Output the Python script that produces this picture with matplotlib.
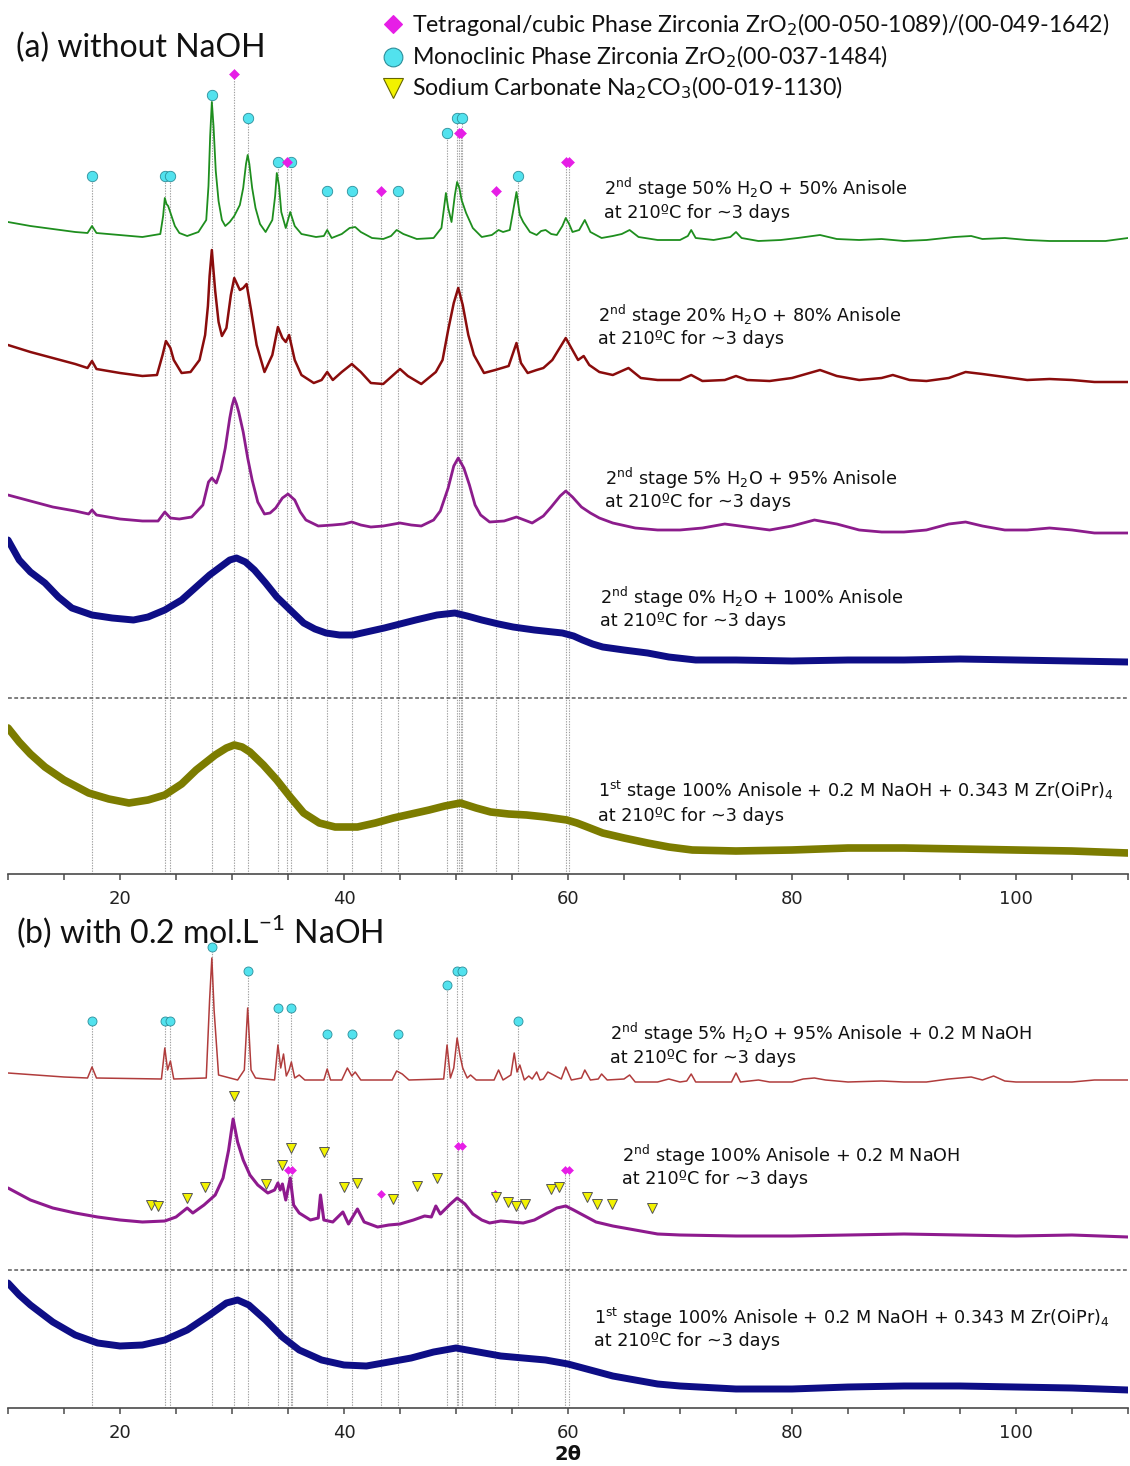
import matplotlib
matplotlib.use("Agg")
import matplotlib.pyplot as plt
from matplotlib.ticker import MultipleLocator
from matplotlib.lines import Line2D

W, H = 1130, 1466

# ---------------- panel (a) data : 2theta / intensity (a.u., offset) ----------------
tt_a50 = [10, 12, 14, 16, 17.1, 17.5, 17.9, 20, 22, 23.6, 23.85, 24.0, 24.15, 24.3, 24.6, 24.9, 25.3, 26, 27, 27.7,
          27.9, 28.05, 28.2, 28.35, 28.55, 28.8, 29.1, 29.4, 29.8, 30.2, 30.7, 31.0, 31.25, 31.4, 31.55, 31.8, 32.1, 32.5, 33.0, 33.6,
          33.85, 34.0, 34.2, 34.4, 34.8, 35.2, 35.6, 36.2, 37.5, 38.2, 38.5, 38.9, 39.8, 40.5, 41.0, 41.5, 42.5, 43.5, 44.2, 44.7,
          45.3, 46.5, 48.0, 48.7, 48.95, 49.1, 49.3, 49.6, 49.9, 50.1, 50.3, 50.5, 50.9, 51.5, 52.3, 53.2, 53.8, 54.2, 54.8, 55.2,
          55.4, 55.7, 56.0, 56.6, 57.2, 57.6, 58.0, 58.5, 59.0, 59.5, 59.8, 60.1, 60.4, 61.0, 61.5, 62.0, 63, 64, 64.8, 65.5,
          66.3, 68, 70, 70.7, 71.0, 71.4, 73, 74.5, 75.0, 75.5, 77, 79, 80.5, 82.5, 84, 86, 88, 90, 92, 94.5,
          96, 97, 99, 101, 103, 106, 108, 110]
I_a50 = [654, 650, 647, 644, 643, 650, 643, 641, 639, 642, 660, 678, 672, 670, 660, 650, 643, 640, 644, 656,
         690, 740, 774, 750, 705, 675, 656, 650, 654, 660, 671, 688, 712, 721, 712, 688, 668, 652, 644, 656,
         680, 703, 690, 664, 648, 664, 650, 642, 639, 640, 646, 638, 642, 648, 649, 644, 638, 637, 640, 646,
         642, 637, 638, 648, 670, 683, 668, 654, 681, 694, 688, 676, 663, 648, 639, 641, 646, 644, 646, 671,
         684, 661, 654, 644, 641, 645, 646, 642, 641, 650, 658, 652, 644, 646, 656, 644, 638, 640, 642, 646,
         639, 636, 636, 640, 646, 638, 636, 639, 644, 638, 635, 636, 638, 641, 637, 636, 637, 635, 636, 639,
         640, 637, 638, 636, 635, 635, 635, 638]

tt_a20 = [10, 12, 14, 16, 17.1, 17.5, 17.9, 20, 22, 23.3, 23.8, 24.1, 24.5, 24.8, 25.5, 26.3, 27.1, 27.6, 27.85, 28.0,
          28.2, 28.35, 28.5, 28.8, 29.1, 29.5, 29.9, 30.2, 30.7, 31.0, 31.3, 31.7, 32.2, 32.9, 33.6, 34.1, 34.5, 34.8, 35.1, 35.6,
          36.2, 37.3, 38.0, 38.5, 39.0, 39.8, 40.7, 41.5, 42.4, 43.5, 44.3, 45.0, 45.7, 46.9, 48.2, 48.8, 49.3, 49.8, 50.2, 50.6,
          51.1, 51.6, 52.5, 53.5, 54.7, 55.4, 55.8, 56.4, 57.2, 57.8, 58.6, 59.8, 60.4, 60.9, 61.4, 61.9, 62.8, 64.0, 65.4, 66.5,
          68, 70, 71.0, 72, 74, 75, 76, 78, 80, 82.5, 84, 86, 88, 89, 90.5, 92, 94, 95.5, 97, 99,
          101, 103, 105, 107, 110]
I_a20 = [531, 524, 518, 512, 508, 515, 507, 503, 500, 501, 521, 535, 528, 516, 503, 504, 516, 541, 570, 600,
         626, 605, 585, 554, 540, 548, 581, 598, 586, 588, 592, 566, 531, 504, 521, 549, 538, 534, 541, 516,
         501, 493, 496, 504, 496, 504, 512, 504, 493, 492, 500, 507, 500, 492, 504, 516, 546, 573, 588, 571,
         541, 521, 503, 506, 510, 533, 513, 503, 506, 508, 516, 538, 526, 516, 520, 511, 504, 501, 508, 498,
         496, 496, 501, 495, 496, 500, 496, 495, 498, 506, 500, 496, 498, 501, 496, 495, 498, 504, 502, 499,
         496, 497, 496, 494, 494]

tt_a5 = [10, 12, 14, 16, 17.2, 17.5, 17.9, 20, 22, 23.4, 24.0, 24.5, 25.3, 26.4, 27.4, 27.9, 28.2, 28.6, 29.0, 29.4,
         29.8, 30.0, 30.2, 30.4, 30.6, 31.0, 31.4, 31.8, 32.3, 32.9, 33.4, 33.9, 34.5, 35.0, 35.6, 36.1, 36.6, 37.7, 39.0, 40.0,
         40.7, 41.5, 42.4, 43.5, 45.0, 46.0, 46.9, 48.0, 48.6, 49.3, 49.8, 50.2, 50.7, 51.2, 51.7, 52.2, 53.0, 54.3, 55.4, 56.8,
         57.8, 58.5, 59.3, 59.8, 60.4, 61.2, 62.0, 62.8, 64, 66, 68, 70, 72, 74, 76, 78, 80, 82, 84, 86,
         88, 90, 92, 94, 95.5, 97, 99, 101, 103, 105, 107, 110]
I_a5 = [381, 375, 369, 365, 362, 366, 361, 357, 355, 355, 364, 358, 357, 359, 371, 394, 398, 393, 406, 428,
        458, 470, 478, 472, 464, 444, 418, 396, 374, 362, 363, 368, 378, 382, 376, 364, 356, 350, 351, 352,
        354, 351, 349, 350, 353, 351, 350, 356, 365, 388, 410, 418, 408, 391, 371, 361, 354, 355, 359, 353,
        360, 369, 380, 385, 379, 369, 363, 358, 353, 348, 346, 346, 348, 352, 349, 346, 350, 356, 352, 346,
        344, 344, 346, 352, 354, 350, 346, 346, 348, 346, 343, 343]

tt_a0 = [10, 10.5, 11, 12, 13.3, 14.5, 15.7, 17.5, 19.3, 21.2, 22.5, 24.0, 25.5, 26.8, 28, 29.2, 29.8, 30.4, 31.2, 32.0,
         33, 34.0, 35.2, 36.4, 37.4, 38.4, 39.6, 40.8, 42, 43.6, 45, 46.4, 48.3, 49.9, 51, 52.3, 53.8, 55.1, 57, 59.5,
         60.5, 61.3, 62.2, 63.1, 65, 67.1, 69, 71.4, 75, 80, 85, 90, 95, 100, 105, 110]
I_a0 = [336, 326, 316, 304, 293, 279, 268, 261, 258, 256, 259, 266, 276, 289, 301, 311, 316, 318, 314, 306,
        293, 279, 266, 253, 247, 243, 241, 241, 244, 248, 252, 256, 261, 263, 260, 256, 252, 249, 246, 243,
        240, 236, 232, 229, 226, 223, 219, 216, 216, 215, 216, 216, 217, 216, 215, 214]

tt_a1 = [10, 10.5, 11, 12, 13.3, 15, 17.2, 19, 20.8, 22.5, 24.0, 25.5, 26.8, 28.5, 29.5, 30.2, 30.9, 31.6, 32.8, 34.0,
         35.2, 36.4, 37.8, 39.2, 41.2, 42.8, 44.4, 46, 47.6, 49, 50.4, 51.8, 53.1, 54.7, 56.3, 58, 59.9, 60.8, 61.5, 63.1,
         65, 67.1, 69, 71.1, 75, 80, 85, 90, 95, 100, 105, 110]
I_a1 = [148, 141, 134, 122, 109, 96, 83, 77, 73, 76, 81, 92, 106, 121, 128, 131, 129, 124, 111, 96,
        79, 63, 53, 49, 49, 53, 58, 62, 66, 70, 73, 68, 64, 62, 61, 59, 56, 53, 50, 43,
        38, 33, 29, 26, 25, 26, 28, 28, 27, 26, 25, 23]

# ---------------- panel (b) data ----------------
tt_b5 = [10, 15, 17.1, 17.5, 17.9, 23.7, 24.0, 24.25, 24.5, 24.8, 27.7, 28.0, 28.2, 28.4, 28.8, 30.5, 31.1, 31.4, 31.7, 32.1,
         33.8, 34.1, 34.35, 34.6, 34.85, 35.1, 35.3, 35.6, 36.0, 36.5, 38.2, 38.5, 38.8, 39.8, 40.3, 40.7, 41.0, 41.5, 44.3, 44.7,
         45.2, 45.8, 48.9, 49.2, 49.5, 49.8, 50.1, 50.35, 50.6, 51.0, 51.3, 51.8, 53.4, 53.8, 54.2, 54.9, 55.2, 55.45, 55.7, 56.1,
         56.5, 56.8, 57.2, 57.5, 57.8, 58.2, 59.4, 59.8, 60.3, 61.2, 61.5, 62.0, 62.7, 63.0, 63.5, 65.0, 65.5, 66.0, 68, 69,
         70, 70.6, 71, 71.4, 74.6, 75, 75.4, 77, 78, 80, 81, 82, 83, 85, 88, 90, 92, 94, 96, 97,
         98, 99, 100, 105, 107, 110]
I_b5 = [336, 332, 331, 342, 331, 330, 361, 339, 348, 330, 331, 409, 451, 399, 334, 329, 339, 401, 339, 331,
        329, 364, 341, 355, 333, 339, 347, 331, 334, 329, 329, 340, 329, 329, 341, 333, 337, 329, 329, 338,
        335, 329, 330, 364, 331, 341, 371, 354, 341, 331, 334, 329, 329, 339, 329, 334, 356, 337, 344, 329,
        333, 330, 337, 329, 330, 337, 330, 342, 329, 331, 339, 329, 330, 335, 329, 330, 334, 327, 327, 330,
        327, 328, 335, 327, 327, 336, 327, 329, 327, 327, 330, 331, 329, 327, 328, 327, 327, 330, 332, 329,
        333, 328, 327, 327, 329, 329]

tt_b100 = [10, 12, 14, 16, 18, 20, 22, 24, 25, 26.0, 26.5, 27.5, 28.5, 29.2, 29.7, 30.1, 30.5, 31.0, 31.6, 32.3,
           33.2, 33.8, 34.1, 34.3, 34.5, 34.8, 35.2, 35.5, 36.0, 37.0, 37.7, 37.9, 38.2, 39.0, 39.9, 40.4, 41.2, 41.8, 43, 44,
           45, 46.2, 47.2, 47.8, 48.2, 48.6, 49.5, 50.1, 50.8, 51.5, 52.3, 53, 54, 55, 56, 57, 58, 59, 59.8, 60.5,
           61.5, 62.5, 64, 66, 68, 70, 75, 80, 85, 90, 95, 100, 105, 110]
I_b100 = [221, 209, 201, 196, 192, 189, 187, 188, 192, 201, 196, 204, 214, 231, 259, 290, 267, 249, 234, 224,
          216, 219, 226, 219, 225, 209, 231, 204, 196, 189, 191, 214, 189, 187, 197, 185, 200, 187, 182, 184,
          185, 189, 193, 192, 203, 195, 205, 211, 205, 195, 189, 186, 188, 187, 186, 189, 195, 201, 203, 199,
          193, 187, 183, 179, 175, 174, 173, 173, 174, 175, 174, 173, 174, 172]

tt_b1 = [10, 11, 12, 14, 16, 18, 20, 22, 24, 26, 28, 29.5, 30.5, 31.5, 33, 34.5, 36, 38, 40, 42,
         44, 46, 48, 50, 52, 54, 56, 58, 60, 62, 64, 66, 68, 70, 75, 80, 85, 90, 95, 100, 105, 110]
I_b1 = [126, 114, 104, 87, 74, 66, 63, 64, 69, 79, 94, 106, 109, 104, 89, 72, 59, 49, 44, 43,
        47, 51, 57, 61, 57, 53, 51, 49, 45, 39, 33, 29, 25, 23, 20, 20, 22, 23, 23, 22, 21, 19]

# ---------------- reference patterns ----------------
mono_pos = [17.5, 24.0, 24.5, 28.2, 31.4, 34.1, 35.3, 38.5, 40.7, 44.8, 49.2, 50.1, 50.5, 55.5]
mono_ref_a = [700, 700, 700, 781, 758, 714, 714, 685, 685, 685, 743, 758, 758, 700]
mono_ref_b = [388, 388, 388, 462, 438, 401, 401, 375, 375, 375, 424, 438, 438, 388]
tet_pos_a = [30.2, 34.9, 43.3, 50.25, 50.45, 53.6, 59.8, 60.1]
tet_ref_a = [802, 714, 685, 743, 743, 685, 714, 714]
tet_pos_b = [35.0, 35.4, 43.3, 50.2, 50.5, 53.5, 59.75, 60.05]
tet_ref_b = [239, 239, 215, 263, 263, 215, 239, 239]
na_pos = [22.8, 23.4, 26.0, 27.6, 30.2, 33.0, 34.5, 35.3, 38.2, 40.0, 41.2, 44.4, 46.5, 48.3, 53.6, 54.6,
          55.4, 56.2, 58.5, 59.2, 61.7, 62.6, 63.9, 67.5]
na_ref = [204, 203, 211, 222, 313, 225, 244, 261, 257, 222, 226, 210, 223, 231, 212, 207,
          203, 205, 220, 222, 212, 205, 205, 201]

xticks_major = [20, 40, 60, 80, 100]

# ---------------- styles ----------------
C_MONO = '#52E2EE'
C_MONO_E = '#2C8E9A'
C_TET = '#E61EE6'
C_NA = '#F2F200'
C_NA_E = '#555555'
C_REF = '#A0A0A0'
ANN_FONT = 'DejaVu Sans'
HEAD_FONT = 'Lato'

fig = plt.figure(figsize=(W / 100, H / 100), dpi=100)


def fx(px):
    return px / W


def fy(py):
    return 1 - py / H


X0, X1 = 8, 1128
A_TOP, A_BOT = 0, 874
B_TOP, B_BOT = 905, 1408
ax_a = fig.add_axes([fx(X0), fy(A_BOT), (X1 - X0) / W, (A_BOT - A_TOP) / H])
ax_b = fig.add_axes([fx(X0), fy(B_BOT), (X1 - X0) / W, (B_BOT - B_TOP) / H])
ax_a.set_ylim(2, 876)
ax_b.set_ylim(1, 504)

for ax in (ax_a, ax_b):
    ax.set_xlim(10, 110)
    ax.patch.set_alpha(0)
    for s in ('left', 'right', 'top'):
        ax.spines[s].set_visible(False)
    ax.spines['bottom'].set_color('#4a4a4a')
    ax.spines['bottom'].set_linewidth(1.2)
    ax.set_yticks([])
    ax.xaxis.set_major_locator(MultipleLocator(20))
    ax.xaxis.set_minor_locator(MultipleLocator(5))
    ax.set_xticks(xticks_major)
    ax.set_xticklabels([str(v) for v in xticks_major])
    ax.tick_params(axis='x', which='both', direction='out', length=4.5, width=1.1,
                   color='#4a4a4a', labelsize=13, labelcolor='#222222', pad=7)
    for lab in ax.get_xticklabels():
        lab.set_fontfamily(ANN_FONT)

ls_ref = (0, (1.2, 1.2))

# reference lines + markers (a)
ax_a.vlines(mono_pos, 2, mono_ref_a, colors=C_REF, linestyles=ls_ref, lw=0.8, zorder=1)
ax_a.vlines(tet_pos_a, 2, tet_ref_a, colors=C_REF, linestyles=ls_ref, lw=0.8, zorder=1)
ax_a.plot(mono_pos, mono_ref_a, 'o', ms=7.5, mfc=C_MONO, mec=C_MONO_E, mew=0.6, zorder=5, clip_on=False)
ax_a.plot(tet_pos_a, tet_ref_a, 'D', ms=5, mfc=C_TET, mec=C_TET, mew=0.4, zorder=6, clip_on=False)

# reference lines + markers (b)
ax_b.vlines(mono_pos, 1, mono_ref_b, colors=C_REF, linestyles=ls_ref, lw=0.8, zorder=1)
ax_b.vlines(tet_pos_b, 1, tet_ref_b, colors=C_REF, linestyles=ls_ref, lw=0.8, zorder=1)
ax_b.vlines([na_pos[4]], 1, [na_ref[4]], colors=C_REF, linestyles=ls_ref, lw=0.8, zorder=1)
ax_b.plot(mono_pos, mono_ref_b, 'o', ms=6.5, mfc=C_MONO, mec=C_MONO_E, mew=0.6, zorder=5, clip_on=False)
ax_b.plot(tet_pos_b, tet_ref_b, 'D', ms=4.5, mfc=C_TET, mec=C_TET, mew=0.4, zorder=6, clip_on=False)
ax_b.plot(na_pos, na_ref, 'v', ms=6.5, mfc=C_NA, mec=C_NA_E, mew=0.7, zorder=7, clip_on=False)

# separators
ax_a.axhline(178, color='#5a5a5a', lw=1.1, ls=(0, (2.5, 1.6)), zorder=1)
ax_b.axhline(139, color='#5a5a5a', lw=1.1, ls=(0, (2.5, 1.6)), zorder=1)

# patterns
kw = dict(solid_joinstyle='round', solid_capstyle='round', zorder=3)
ax_a.plot(tt_a50, I_a50, color='#1E8E1E', lw=1.3, **kw)
ax_a.plot(tt_a20, I_a20, color='#8A0C0C', lw=1.8, **kw)
ax_a.plot(tt_a5, I_a5, color='#8C1C8C', lw=2.0, **kw)
ax_a.plot(tt_a0, I_a0, color='#0E0E86', lw=5.0, **kw)
ax_a.plot(tt_a1, I_a1, color='#7C7C00', lw=5.5, **kw)
ax_b.plot(tt_b5, I_b5, color='#B03C3C', lw=1.1, **kw)
ax_b.plot(tt_b100, I_b100, color='#8E1A8E', lw=2.2, **kw)
ax_b.plot(tt_b1, I_b1, color='#0E0E86', lw=5.0, **kw)

# annotations
def ann(ax, x, y1, y2, l1, l2):
    ax.text(x, y1, l1, fontsize=12.7, family=ANN_FONT, va='center', ha='left', color='#111111', zorder=8)
    ax.text(x, y2, l2, fontsize=12.7, family=ANN_FONT, va='center', ha='left', color='#111111', zorder=8)

tail = u"at 210\u00baC for ~3 days"
ann(ax_a, 63.2, 688, 663, r"2$^{\mathrm{nd}}$ stage 50% H$_2$O + 50% Anisole", tail)
ann(ax_a, 62.7, 561, 537, r"2$^{\mathrm{nd}}$ stage 20% H$_2$O + 80% Anisole", tail)
ann(ax_a, 63.3, 398, 374, r"2$^{\mathrm{nd}}$ stage 5% H$_2$O + 95% Anisole", tail)
ann(ax_a, 62.9, 279, 255, r"2$^{\mathrm{nd}}$ stage 0% H$_2$O + 100% Anisole", tail)
ann(ax_a, 62.7, 85, 60, r"1$^{\mathrm{st}}$ stage 100% Anisole + 0.2 M NaOH + 0.343 M Zr(OiPr)$_4$", tail)
ann(ax_b, 63.75, 376, 351, r"2$^{\mathrm{nd}}$ stage 5% H$_2$O + 95% Anisole + 0.2 M NaOH", tail)
ann(ax_b, 64.8, 254, 230, r"2$^{\mathrm{nd}}$ stage 100% Anisole + 0.2 M NaOH", tail)
ann(ax_b, 62.3, 91, 68, r"1$^{\mathrm{st}}$ stage 100% Anisole + 0.2 M NaOH + 0.343 M Zr(OiPr)$_4$", tail)

# panel titles
fig.text(fx(16), fy(48), "(a) without NaOH", fontsize=23, family=HEAD_FONT, va='center', ha='left', color='#111111')
fig.text(fx(16), fy(932), r"(b) with 0.2 mol.L$^{\mathregular{-1}}$ NaOH", fontsize=23, family=HEAD_FONT,
         va='center', ha='left', color='#111111')

# legend
leg_items = [
    ('D', 9.5, C_TET, C_TET, r"Tetragonal/cubic Phase Zirconia ZrO$_2$(00-050-1089)/(00-049-1642)", 24),
    ('o', 13.5, C_MONO, C_MONO_E, r"Monoclinic Phase Zirconia ZrO$_2$(00-037-1484)", 57),
    ('v', 14.0, C_NA, '#666600', r"Sodium Carbonate Na$_2$CO$_3$(00-019-1130)", 88),
]
for m, ms, fc, ec, label, py in leg_items:
    fig.add_artist(Line2D([fx(393)], [fy(py)], marker=m, ms=ms, mfc=fc, mec=ec, mew=0.8,
                          transform=fig.transFigure, linestyle='none'))
    fig.text(fx(412), fy(py), label, fontsize=16.7, family=HEAD_FONT, va='center', ha='left', color='#111111')

# x label
fig.text(fx(568), fy(1455), u"2\u03b8", fontsize=14, family=ANN_FONT, fontweight='bold',
         va='center', ha='center', color='#111111')

fig.savefig('out.png', dpi=100)
